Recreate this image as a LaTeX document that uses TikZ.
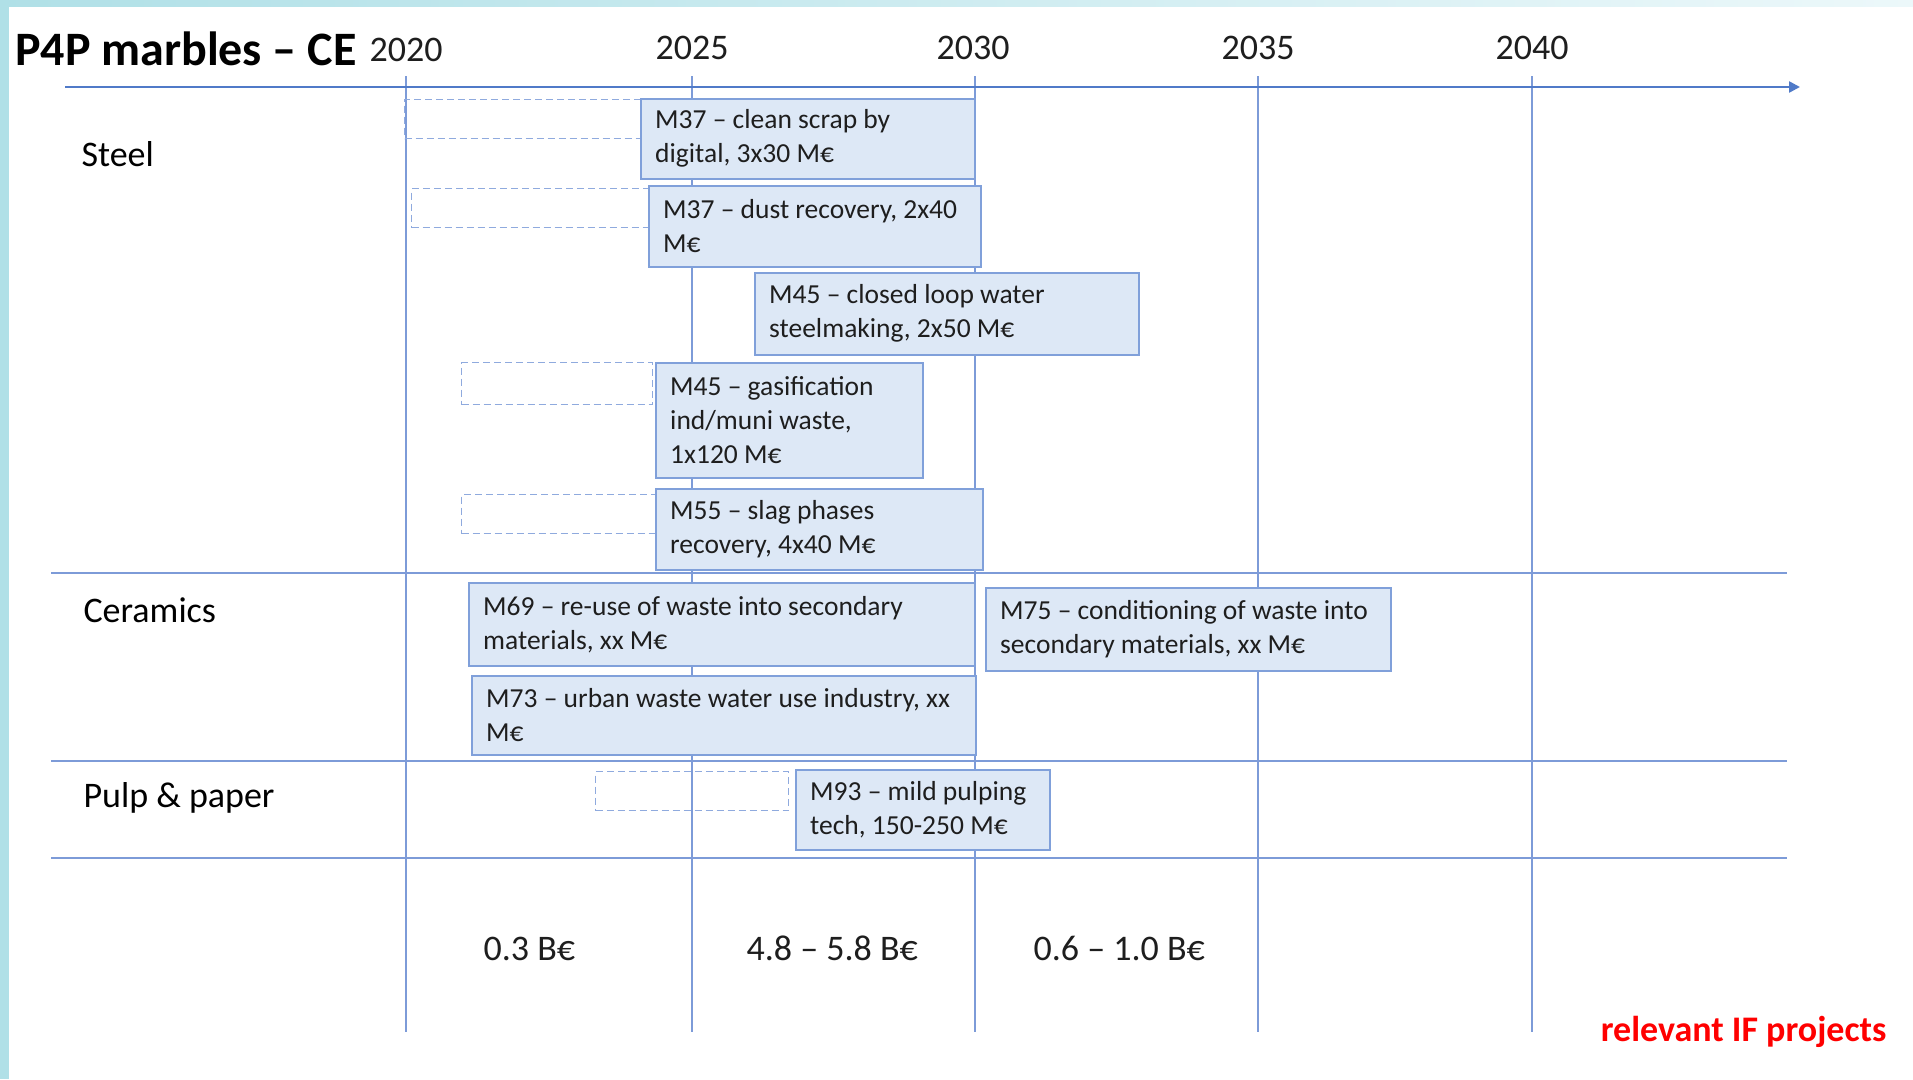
\documentclass[tikz,border=0pt]{standalone}
\usepackage{fontspec}
\setmainfont{Carlito}
\usetikzlibrary{arrows.meta}
\definecolor{edgeblue}{RGB}{176,224,231}
\definecolor{edgelight}{RGB}{236,248,250}
\definecolor{gline}{RGB}{125,155,216}
\definecolor{axisblue}{RGB}{80,122,200}
\definecolor{boxfill}{RGB}{221,232,246}
\definecolor{boxline}{RGB}{128,160,218}
\definecolor{dashline}{RGB}{143,170,222}
\definecolor{txt}{RGB}{30,30,30}
\tikzset{
  gridline/.style={draw=gline, line width=1.4pt},
  pbox/.style={draw=boxline, fill=boxfill, line width=1.6pt, inner sep=0pt, anchor=north west},
  ptext/.style={anchor=west, align=left, inner sep=0pt, text=txt, font=\fontsize{27.5}{34}\selectfont},
  dbox/.style={draw=dashline, line width=1.4pt, dash pattern=on 7pt off 4pt, inner sep=0pt, anchor=north west},
  yearlab/.style={anchor=base, text=txt, font=\fontsize{36}{40}\selectfont},
  rowlab/.style={anchor=base west, text=black, font=\fontsize{36}{40}\selectfont},
  sumlab/.style={anchor=base west, text=txt, font=\fontsize{36}{40}\selectfont},
}
% #1 name, #2 x, #3 y, #4 width, #5 height, #6 text
\newcommand{\projbox}[6]{%
  \node[pbox, minimum width=#4pt, minimum height=#5pt] (#1) at (#2,#3) {};
  \node[ptext] (#1t) at ([xshift=15pt]#1.west) {#6};
}
\begin{document}
\begin{tikzpicture}[x=1pt,y=-1pt]
\useasboundingbox (0,0) rectangle (1913,1079);
\fill[white] (0,0) rectangle (1913,1079);
\shade[left color=edgeblue, right color=edgelight] (0,0) rectangle (1913,6);
\fill[edgeblue] (0,0) rectangle (9,1079);

% title and years
\node[anchor=base west, text=black, font=\bfseries\fontsize{48}{52}\selectfont, inner sep=0pt] (title) at (15,65) {P4P marbles – CE};
\node[yearlab] (y2020) at (406,61) {2020};
\node[yearlab] (y2025) at (692,59) {2025};
\node[yearlab] (y2030) at (973,59) {2030};
\node[yearlab] (y2035) at (1258,59) {2035};
\node[yearlab] (y2040) at (1532,59) {2040};

% grid
\coordinate (v20t) at (406,76);  \coordinate (v20b) at (406,1032);
\coordinate (v25t) at (692,76);  \coordinate (v25b) at (692,1032);
\coordinate (v30t) at (975,76);  \coordinate (v30b) at (975,1032);
\coordinate (v35t) at (1258,76); \coordinate (v35b) at (1258,1032);
\coordinate (v40t) at (1532,76); \coordinate (v40b) at (1532,1032);
\draw[gridline] (v20t) -- (v20b);
\draw[gridline] (v25t) -- (v25b);
\draw[gridline] (v30t) -- (v30b);
\draw[gridline] (v35t) -- (v35b);
\draw[gridline] (v40t) -- (v40b);
\coordinate (h1l) at (51,573); \coordinate (h1r) at (1787,573);
\coordinate (h2l) at (51,761); \coordinate (h2r) at (1787,761);
\coordinate (h3l) at (51,858); \coordinate (h3r) at (1787,858);
\draw[gridline] (h1l) -- (h1r);
\draw[gridline] (h2l) -- (h2r);
\draw[gridline] (h3l) -- (h3r);
\coordinate (axl) at (65,87); \coordinate (axr) at (1800,87);
\draw[draw=axisblue, line width=2.4pt, -{Triangle[length=11pt,width=11pt]}] (axl) -- (axr);

% row labels
\node[rowlab] (steel) at (78,166) {Steel};
\node[rowlab] (ceram) at (80,622) {Ceramics};
\node[rowlab] (pulp) at (80,807) {Pulp \& paper};

% dashed placeholders
\node[dbox, minimum width=236pt, minimum height=39pt] (d1) at (404,99) {};
\node[dbox, minimum width=237pt, minimum height=39pt] (d2) at (411,188) {};
\node[dbox, minimum width=191pt, minimum height=42pt] (d4) at (461,362) {};
\node[dbox, minimum width=194pt, minimum height=39pt] (d5) at (461,494) {};
\node[dbox, minimum width=193pt, minimum height=39pt] (d9) at (595,771) {};

% project boxes
\projbox{b1}{640}{98}{334}{80}{M37 – clean scrap by\\digital, 3x30 M€}
\projbox{b2}{648}{185}{332}{81}{M37 – dust recovery, 2x40\\M€}
\projbox{b3}{754}{272}{384}{82}{M45 – closed loop water\\steelmaking, 2x50 M€}
\projbox{b4}{655}{362}{267}{115}{M45 – gasification\\ind/muni waste,\\1x120 M€}
\projbox{b5}{655}{488}{327}{81}{M55 – slag phases\\recovery, 4x40 M€}
\projbox{b6}{468}{582}{506}{83}{M69 – re-use of waste into secondary\\materials, xx M€}
\projbox{b7}{471}{675}{504}{79}{M73 – urban waste water use industry, xx\\M€}
\projbox{b8}{985}{587}{405}{83}{M75 – conditioning of waste into\\secondary materials, xx M€}
\projbox{b9}{795}{769}{254}{80}{M93 – mild pulping\\tech, 150-250 M€}

% sums
\node[sumlab] (s1) at (480,960) {0.3 B€};
\node[sumlab] (s2) at (743,960) {4.8 – 5.8 B€};
\node[sumlab] (s3) at (1030,960) {0.6 – 1.0 B€};

\node[anchor=base east, text=red, font=\bfseries\fontsize{36}{40}\selectfont] (rel) at (1890,1041) {relevant IF projects};
\end{tikzpicture}
\end{document}
